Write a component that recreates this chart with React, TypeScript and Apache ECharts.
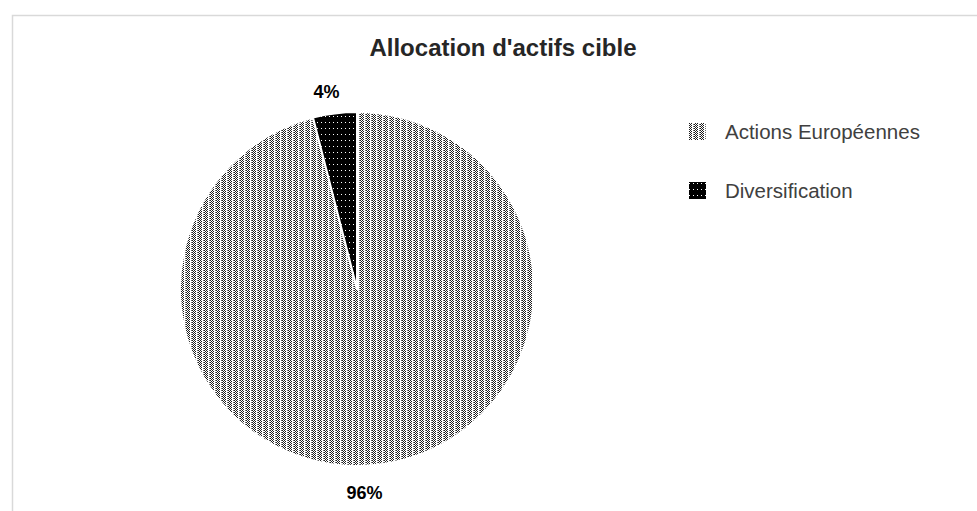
import React, { useEffect, useRef } from "react";
import * as echarts from "echarts";

const titleText = "Allocation d'actifs cible";
const categories = ["Actions Européennes", "Diversification"];
const values = [96, 4];

function makeStripePattern(): HTMLCanvasElement {
  const c = document.createElement("canvas");
  c.width = 6;
  c.height = 4;
  const ctx = c.getContext("2d")!;
  ctx.fillStyle = "#ffffff";
  ctx.fillRect(0, 0, 6, 4);
  ctx.fillStyle = "#1e1e1e";
  const dark = [
    [0, 0], [0, 2], [1, 1], [1, 3], [2, 0], [2, 2], [3, 1], [3, 3],
  ];
  dark.forEach(([x, y]) => ctx.fillRect(x, y, 1, 1));
  ctx.fillStyle = "#6a6a6a";
  const light = [[5, 0], [5, 2]];
  light.forEach(([x, y]) => ctx.fillRect(x, y, 1, 1));
  return c;
}

function makeDotPattern(): HTMLCanvasElement {
  const c = document.createElement("canvas");
  c.width = 4;
  c.height = 6;
  const ctx = c.getContext("2d")!;
  ctx.fillStyle = "#000000";
  ctx.fillRect(0, 0, 4, 6);
  ctx.fillStyle = "#ffffff";
  ctx.fillRect(1, 2, 1, 1);
  return c;
}

export default function App() {
  const ref = useRef<HTMLDivElement>(null);
  useEffect(() => {
    if (!ref.current) return;
    const chart = echarts.init(ref.current, undefined, { renderer: "svg" });
    const patterns = [makeStripePattern(), makeDotPattern()];
    const labelOffsets = [[-39, 18], [11, -11]];
    chart.setOption({
      animation: false,
      backgroundColor: "#ffffff",
      title: {
        text: titleText,
        left: 498,
        top: 30,
        textAlign: "center",
        textStyle: {
          fontFamily: "Liberation Sans, Arial, sans-serif",
          fontSize: 24,
          fontWeight: "bold",
          color: "#262626",
        },
      },
      graphic: [
        {
          type: "rect",
          left: 10,
          top: 13,
          shape: { width: 1000, height: 600 },
          style: { fill: "none", stroke: "#d9d9d9", lineWidth: 1.5 },
          silent: true,
        },
      ],
      legend: {
        orient: "vertical",
        left: 687,
        top: 121,
        padding: 0,
        icon: "rect",
        itemWidth: 19,
        itemHeight: 19,
        itemGap: 38,
        textStyle: {
          fontFamily: "Liberation Sans, Arial, sans-serif",
          fontSize: 20.5,
          color: "#404040",
          padding: [0, 0, 0, 13],
        },
        data: categories,
      },
      series: [
        {
          type: "pie",
          center: [357, 289],
          radius: 177,
          startAngle: 90,
          clockwise: true,
          avoidLabelOverlap: false,
          itemStyle: { borderColor: "#ffffff", borderWidth: 2 },
          label: {
            show: true,
            position: "outside",
            formatter: "{c}%",
            fontFamily: "Liberation Sans, Arial, sans-serif",
            fontSize: 18,
            fontWeight: "bold",
            color: "#000000",
          },
          labelLine: { show: false, length: 10, length2: 0 },
          emphasis: { disabled: true },
          data: categories.map((name, i) => ({
            name,
            value: values[i],
            itemStyle: {
              color: { image: patterns[i], repeat: "repeat" },
            },
            label: { offset: labelOffsets[i] },
          })),
        },
      ],
    });
    return () => chart.dispose();
  }, []);
  return (
    <div
      ref={ref}
      style={{ position: "fixed", left: 0, top: 0, width: 977, height: 511 }}
    />
  );
}
